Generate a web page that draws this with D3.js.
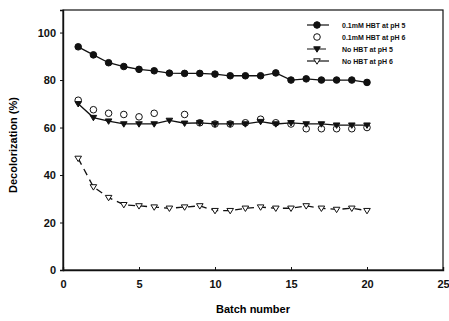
<!DOCTYPE html>
<html>
<head>
<meta charset="utf-8">
<script src="https://cdn.jsdelivr.net/npm/d3@7"></script>
<style>
  body { margin: 0; background: #fff; }
  text { font-family: Arial, "Liberation Sans", sans-serif; }
</style>
</head>
<body>
<div id="chart"></div>
<script>
// batch numbers 1..20
var batches = [1,2,3,4,5,6,7,8,9,10,11,12,13,14,15,16,17,18,19,20];

var hbtPh5 = [94,90.6,87.3,85.7,84.5,83.9,82.9,82.8,82.8,82.5,81.8,81.8,81.8,83,80,80.5,80,80,80,79];
var hbtPh6 = [71.5,67.5,66,65.5,64.5,66,null,65.5,62,61.5,61.5,62,63.5,62,61.5,59.5,59.5,59.5,59.5,60];
var noHbtPh5 = [70,64.2,62.7,61.5,61.5,61.5,63,61.8,62,61.5,61.5,61.5,62.5,61.5,62,61.5,61.5,61,61,61];
var noHbtPh6 = [47,35,30.5,27.5,27,26.5,26,26.5,27,25,25,26,26.5,26,26,27,26,25.5,26,25];

var xTicks = [0,5,10,15,20,25];
var yTicks = [0,20,40,60,80,100];

var seriesNames = ["0.1mM HBT at pH 5", "0.1mM HBT at pH 6", "No HBT at pH 5", "No HBT at pH 6"];

var W = 449, H = 321;
var margin = {top: 10, right: 6, bottom: 51, left: 63};
var width = W - margin.left - margin.right,
    height = H - margin.top - margin.bottom;

var svg = d3.select("#chart").append("svg")
    .attr("width", W).attr("height", H);
var g = svg.append("g")
    .attr("transform", "translate(" + margin.left + "," + margin.top + ")");

var x = d3.scaleLinear().domain([0, 25]).range([0, width]);
var y = d3.scaleLinear().domain([0, 109.5]).range([height, 0]);

// frame
g.append("rect")
    .attr("width", width).attr("height", height)
    .attr("fill", "none").attr("stroke", "#111").attr("stroke-width", 1.2);

var xAxis = g.append("g")
    .attr("transform", "translate(0," + height + ")")
    .call(d3.axisBottom(x).tickValues(xTicks).tickSize(-3).tickPadding(10));
var yAxis = g.append("g")
    .call(d3.axisLeft(y).tickValues(yTicks).tickSize(3).tickPadding(4));

[xAxis, yAxis].forEach(function (a) {
    a.select(".domain").attr("stroke", "#111").attr("stroke-width", 1.4);
    a.selectAll(".tick line").attr("stroke", "#111");
    a.selectAll(".tick text")
        .attr("fill", "#111")
        .style("font-size", "11px")
        .style("font-weight", "bold");
});

svg.append("text")
    .attr("x", margin.left + width / 2).attr("y", 313)
    .attr("text-anchor", "middle")
    .style("font-size", "11px").style("font-weight", "bold")
    .text("Batch number");

svg.append("text")
    .attr("transform", "translate(17," + (margin.top + height / 2 + 5) + ") rotate(-90)")
    .attr("text-anchor", "middle")
    .style("font-size", "11px").style("font-weight", "bold")
    .text("Decolorization (%)");

function pts(vals) {
    return batches.map(function (b, i) { return {x: b, y: vals[i]}; })
        .filter(function (d) { return d.y != null; });
}

var line = d3.line()
    .x(function (d) { return x(d.x); })
    .y(function (d) { return y(d.y); });

var series = [
    {name: seriesNames[0], data: pts(hbtPh5), sym: "circle", fill: "#111", dash: null, line: true},
    {name: seriesNames[1], data: pts(hbtPh6), sym: "circle", fill: "#fff", dash: null, line: false},
    {name: seriesNames[2], data: pts(noHbtPh5), sym: "tri", fill: "#111", dash: null, line: true},
    {name: seriesNames[3], data: pts(noHbtPh6), sym: "tri", fill: "#fff", dash: "7,5", line: true}
];

function drawSym(sel, s) {
    if (s.sym == "circle") {
        sel.append("circle").attr("r", 3.3)
            .attr("fill", s.fill).attr("stroke", "#111").attr("stroke-width", 1);
    } else {
        sel.append("path")
            .attr("d", "M-3.3,-2.2L3.3,-2.2L0,3.2Z")
            .attr("fill", s.fill).attr("stroke", "#111").attr("stroke-width", 1);
    }
}

series.forEach(function (s) {
    if (s.line) {
        g.append("path")
            .datum(s.data)
            .attr("d", line)
            .attr("fill", "none")
            .attr("stroke", "#111")
            .attr("stroke-width", 1.3)
            .attr("stroke-dasharray", s.dash);
    }
    g.selectAll(null).data(s.data).enter().append("g")
        .attr("transform", function (d) { return "translate(" + x(d.x) + "," + y(d.y) + ")"; })
        .each(function () { drawSym(d3.select(this), s); });
});

// legend
var legend = svg.append("g").attr("transform", "translate(317,25)");
series.forEach(function (s, i) {
    var row = legend.append("g").attr("transform", "translate(0," + (i * 12) + ")");
    if (s.line) {
        row.append("line").attr("x1", -10).attr("x2", 12)
            .attr("stroke", "#111").attr("stroke-width", 1.2)
            .attr("stroke-dasharray", i == 2 ? "8,3" : null);
    }
    drawSym(row.append("g"), s);
    row.append("text").attr("x", 25).attr("y", 2.5)
        .style("font-size", "7px").style("font-weight", "bold")
        .attr("fill", "#111")
        .text(s.name);
});
</script>
</body>
</html>
